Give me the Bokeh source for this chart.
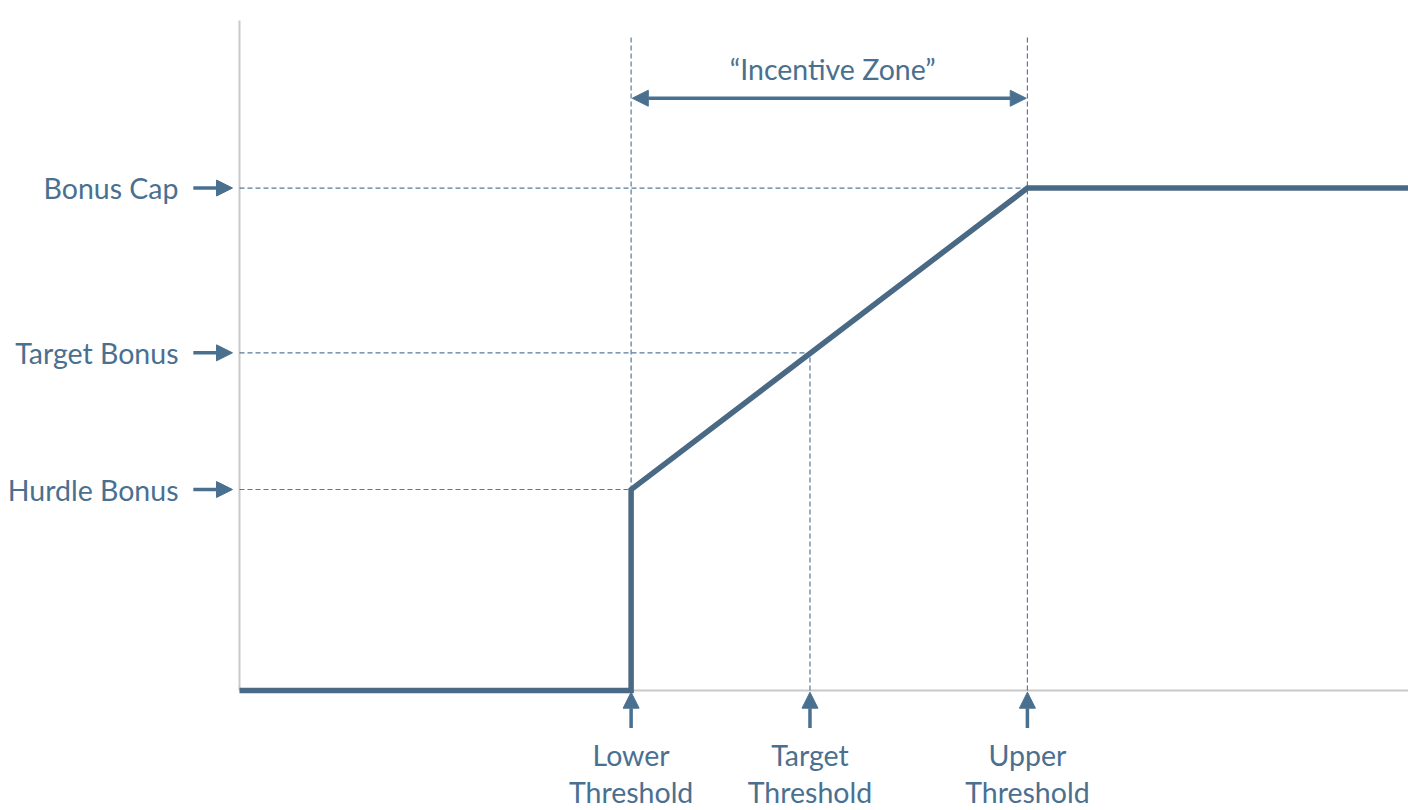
from bokeh.plotting import figure
from bokeh.models import Range1d, Arrow, NormalHead, ColumnDataSource
from bokeh.core.properties import value
from bokeh.embed import file_html
from bokeh.resources import INLINE

# Bonus levels (y, share of the chart height) and performance thresholds (x)
level_names = ["Bonus Cap", "Target Bonus", "Hurdle Bonus"]
level_values = [75, 50.4, 30]
threshold_names = ["Lower\nThreshold", "Target\nThreshold", "Upper\nThreshold"]
threshold_values = [33.5, 48.8, 67.4]

# Payout curve
curve_x = [0, 33.5, 33.5, 67.4, 100]
curve_y = [0, 0, 30, 75, 75]

zone_label = "\u201cIncentive Zone\u201d"

TEXT = "#4a7090"
LINE = "#4a6985"
DASH = "#56799a"
AXIS = "#c9c9c9"
FONT = "Lato"
FSIZE = "28.5px"

p = figure(width=1408, height=810, output_backend="svg", toolbar_location=None,
           x_range=Range1d(-20.445, 100), y_range=Range1d(-17.91, 102.99),
           min_border=0, outline_line_color=None)
p.axis.visible = False
p.grid.visible = False
p.background_fill_color = "white"

# axes drawn as plain segments
p.segment(x0=[0, 0], y0=[0, 0], x1=[0, 100], y1=[100, 0], line_color=AXIS, line_width=2)

# dashed guides from the y axis to the curve
lvl_x = [threshold_values[2], threshold_values[1], threshold_values[0]]
p.segment(x0=[0] * 3, y0=level_values, x1=lvl_x, y1=level_values,
          line_color=DASH, line_width=1.2, line_dash="5 3")
# dashed guides for thresholds
top = 97.8
p.segment(x0=threshold_values, y0=[0, 0, 0],
          x1=threshold_values, y1=[top, level_values[1], top],
          line_color=DASH, line_width=1.2, line_dash="5 3")

# payout curve
p.line(curve_x, curve_y, line_color=LINE, line_width=5.5, line_join="miter")

def head():
    return NormalHead(size=16, fill_color=TEXT, line_color=TEXT, line_width=1)

# arrows pointing to the levels
for lv in level_values:
    p.add_layout(Arrow(end=head(), x_start=-3.95, y_start=lv, x_end=-0.6, y_end=lv,
                       line_color=TEXT, line_width=3.5))
# arrows pointing to the thresholds
for tv in threshold_values:
    p.add_layout(Arrow(end=head(), x_start=tv, y_start=-5.6, x_end=tv, y_end=-0.25,
                       line_color=TEXT, line_width=3.5))
# incentive zone double arrow
p.add_layout(Arrow(start=head(), end=head(),
                   x_start=threshold_values[0] + 0.1, y_start=88.4,
                   x_end=threshold_values[2] - 0.1, y_end=88.4,
                   line_color=TEXT, line_width=3.5))

src_l = ColumnDataSource(dict(x=[0] * 3, y=level_values, t=level_names))
p.text(x="x", y="y", text="t", source=src_l, x_offset=-61,
       text_align="right", text_baseline="middle",
       text_font=value(FONT), text_font_size=FSIZE, text_color=TEXT)

src_t = ColumnDataSource(dict(x=threshold_values, y=[-12.4] * 3, t=threshold_names))
p.text(x="x", y="y", text="t", source=src_t,
       text_align="center", text_baseline="middle", text_line_height=1.08,
       text_font=value(FONT), text_font_size=FSIZE, text_color=TEXT)

p.text(x=[(threshold_values[0] + threshold_values[2]) / 2 + 0.3], y=[92.8], text=[zone_label],
       text_align="center", text_baseline="middle",
       text_font=value(FONT), text_font_size=FSIZE, text_color=TEXT)

open("out.html", "w").write(file_html(p, INLINE))
